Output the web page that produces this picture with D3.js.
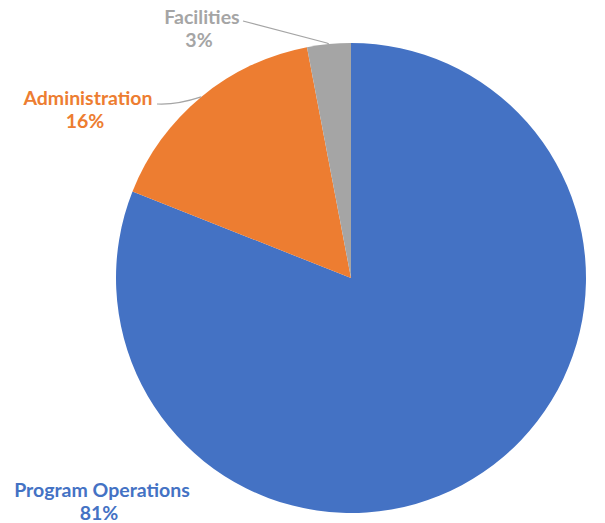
<!DOCTYPE html>
<html>
<head>
<meta charset="utf-8">
<script src="https://cdn.jsdelivr.net/npm/d3@7"></script>
<style>
  html, body { margin: 0; padding: 0; background: #ffffff; }
  svg { display: block; }
</style>
</head>
<body>
<svg id="chart" width="605" height="523"></svg>
<script>
const categories = ["Program Operations", "Administration", "Facilities"];
const values = [81, 16, 3];
const percentLabels = ["81%", "16%", "3%"];
const colors = ["#4472C4", "#ED7D31", "#A5A5A5"];

const W = 605, H = 523;
const cx = 351, cy = 278, R = 235;

const svg = d3.select("#chart");
const g = svg.append("g").attr("transform", `translate(${cx},${cy})`);

const pie = d3.pie().sort(null).value(d => d.value);
const data = categories.map((c, i) => ({ name: c, value: values[i], pct: percentLabels[i], color: colors[i] }));
const arcs = pie(data);
const arc = d3.arc().innerRadius(0).outerRadius(R);

g.selectAll("path.slice")
  .data(arcs)
  .enter().append("path")
  .attr("class", "slice")
  .attr("d", arc)
  .attr("fill", d => d.data.color);

// label positions (absolute page coords) and leader line starts
const labelPos = [
  { x: 102, y: 497, leader: null },
  { x: 88, y: 105, leader: [157, 104] },
  { x: 202, y: 24, leader: [243, 21] }
];

const fontFamily = "Lato, 'Open Sans', sans-serif";

arcs.forEach((a, i) => {
  const p = labelPos[i];
  const mid = (a.startAngle + a.endAngle) / 2;
  if (p.leader) {
    const ex = cx + R * Math.sin(mid);
    const ey = cy - R * Math.cos(mid);
    const [sx, sy] = p.leader;
    const kx = sx + (ex - sx) * 0.45;
    const path = d3.path();
    path.moveTo(sx, sy);
    path.lineTo(kx, sy);
    path.lineTo(ex, ey);
    svg.append("path")
      .attr("d", i === 2
        ? `M${sx},${sy} L${ex - 2},${ey - 1} L${ex},${ey}`
        : `M${sx},${sy} Q${kx},${sy + 1} ${ex},${ey}`)
      .attr("fill", "none")
      .attr("stroke", "#A5A5A5")
      .attr("stroke-width", 1.2);
  }
  const t = svg.append("text")
    .attr("x", p.x)
    .attr("y", p.y)
    .attr("text-anchor", "middle")
    .attr("font-family", fontFamily)
    .attr("font-weight", 700)
    .attr("font-size", "19.5px")
    .attr("fill", a.data.color);
  t.append("tspan").attr("x", p.x).text(a.data.name);
  t.append("tspan").attr("x", p.x - 3).attr("dy", 23).text(a.data.pct);
});
</script>
</body>
</html>
